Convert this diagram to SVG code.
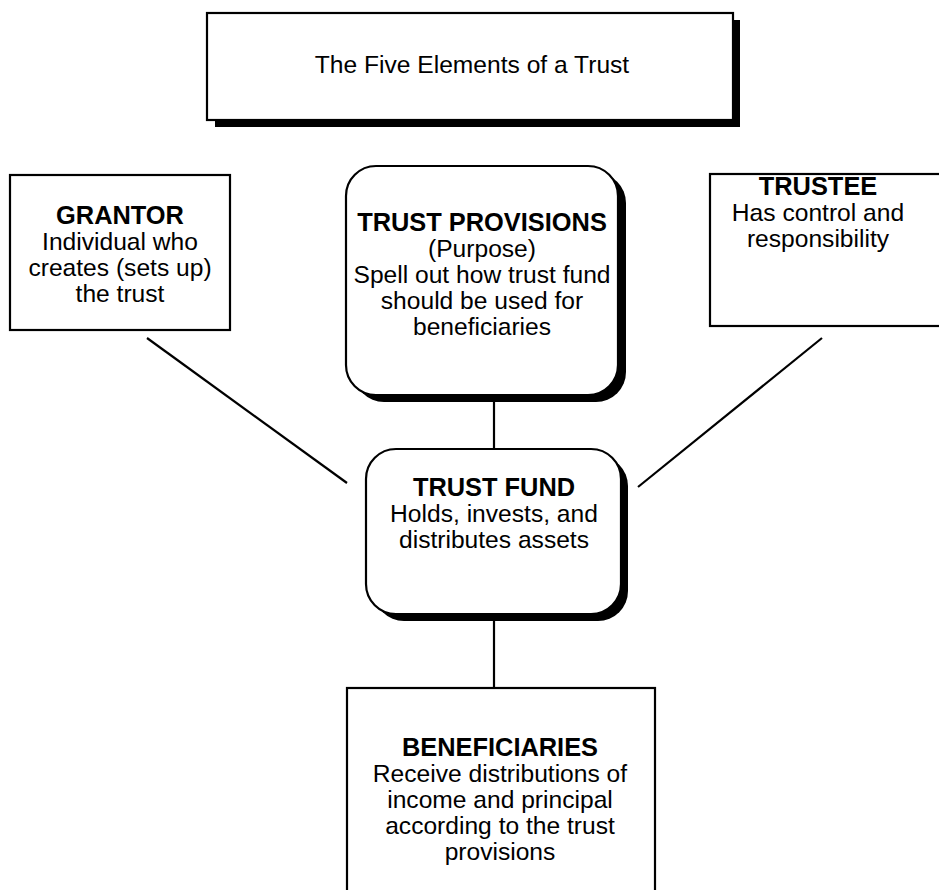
<svg xmlns="http://www.w3.org/2000/svg" width="939" height="890" viewBox="0 0 939 890">
<style>
.box{fill:#fff;stroke:#000;stroke-width:2.2}
.shadow{fill:#000}
.conn{stroke:#000;stroke-width:2.2;fill:none}
text{font-family:"Liberation Sans",Arial,Helvetica,sans-serif;font-size:24.6px;fill:#000;text-anchor:middle}
.b{font-weight:bold;font-size:25.4px}
</style>
<rect width="939" height="890" fill="#fff"/>
<g id="connectors">
<line class="conn" x1="147" y1="338" x2="347" y2="483"/>
<line class="conn" x1="822" y1="338" x2="638" y2="487"/>
<line class="conn" x1="494" y1="396" x2="494" y2="452"/>
<line class="conn" x1="494" y1="616" x2="494" y2="688"/>
</g>
<g id="title">
<rect class="shadow" x="215" y="20" width="525" height="107"/>
<rect class="box" x="207" y="13" width="526" height="107"/>
<text x="472" y="73">The Five Elements of a Trust</text>
</g>
<g id="grantor">
<rect class="box" x="10" y="175" width="220" height="155"/>
<text class="b" x="120" y="224">GRANTOR</text>
<text x="120" y="250">Individual who</text>
<text x="120" y="276">creates (sets up)</text>
<text x="120" y="302">the trust</text>
</g>
<g id="trust-provisions">
<rect class="shadow" x="354" y="173" width="272" height="229" rx="30"/>
<rect class="box" x="346" y="166" width="272" height="229" rx="30"/>
<text class="b" x="482" y="231">TRUST PROVISIONS</text>
<text x="482" y="257">(Purpose)</text>
<text x="482" y="283">Spell out how trust fund</text>
<text x="482" y="309">should be used for</text>
<text x="482" y="335">beneficiaries</text>
</g>
<g id="trustee">
<rect class="box" x="710" y="174" width="240" height="152"/>
<text class="b" x="818" y="195">TRUSTEE</text>
<text x="818" y="221">Has control and</text>
<text x="818" y="247">responsibility</text>
</g>
<g id="trust-fund">
<rect class="shadow" x="374" y="456" width="254" height="165" rx="30"/>
<rect class="box" x="366" y="449" width="255" height="165" rx="30"/>
<text class="b" x="494" y="496">TRUST FUND</text>
<text x="494" y="522">Holds, invests, and</text>
<text x="494" y="548">distributes assets</text>
</g>
<g id="beneficiaries">
<rect class="box" x="347" y="688" width="308" height="220"/>
<text class="b" x="500" y="756">BENEFICIARIES</text>
<text x="500" y="782">Receive distributions of</text>
<text x="500" y="808">income and principal</text>
<text x="500" y="834">according to the trust</text>
<text x="500" y="860">provisions</text>
</g>
</svg>
